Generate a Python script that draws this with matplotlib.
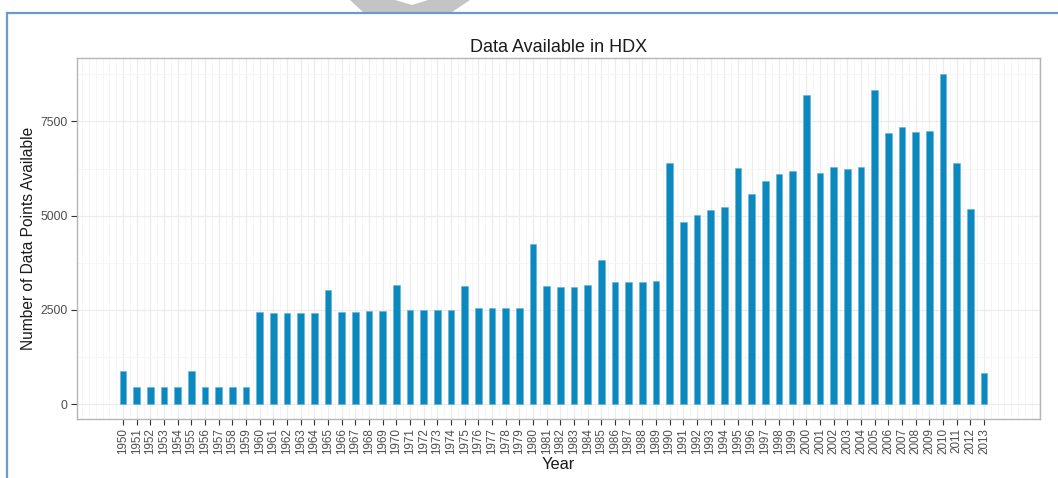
import matplotlib
matplotlib.use("Agg")
import matplotlib.pyplot as plt
from matplotlib.patches import Polygon
from matplotlib.lines import Line2D
import numpy as np

plt.rcParams['font.family'] = ['Liberation Sans', 'DejaVu Sans']

years = list(range(1950, 2014))
counts = [
    880, 450, 450, 450, 450, 880, 450, 450, 450, 450,          # 1950s
    2440, 2410, 2405, 2405, 2405, 3025, 2440, 2440, 2475, 2475,  # 1960s
    3155, 2505, 2505, 2505, 2505, 3125, 2540, 2540, 2540, 2540,  # 1970s
    4245, 3120, 3115, 3115, 3150, 3810, 3225, 3240, 3240, 3275,  # 1980s
    6390, 4840, 5005, 5140, 5235, 6255, 5565, 5925, 6095, 6190,  # 1990s
    8200, 6120, 6280, 6225, 6280, 8335, 7185, 7345, 7220, 7245,  # 2000s
    8765, 6390, 5165, 815,                                       # 2010s
]
yticks = [0, 2500, 5000, 7500]

W, H = 1058, 478
fig = plt.figure(figsize=(W / 100, H / 100), dpi=100)

# page decoration: blue frame + grey chevron at top
fig.add_artist(Line2D([7 / W, 7 / W], [0, 1 - 12.5 / H], transform=fig.transFigure,
                      color='#6a9ad4', lw=1.6))
fig.add_artist(Line2D([7 / W, 1], [1 - 12.5 / H, 1 - 12.5 / H], transform=fig.transFigure,
                      color='#6a9ad4', lw=1.6))
chev = [(350, 0), (395, 0), (412, 5), (428, 0), (470, 0), (452, 12), (363, 12)]
fig.add_artist(Polygon([(x / W, 1 - y / H) for x, y in chev], closed=True,
                       transform=fig.transFigure, facecolor='#c4c4c4', edgecolor='none'))

ax = fig.add_axes([77 / W, 1 - 419 / H, (1040 - 77) / W, (419 - 58) / H])
ax.bar(years, counts, width=0.5, color='#0b88bd', edgecolor='#5fb3d9', linewidth=0.4, zorder=3)

ax.set_xlim(1946.63, 2017.1)
ax.set_ylim(-398, 9183)

ax.set_xticks(years)
ax.set_xticklabels([str(y) for y in years], rotation=90, fontsize=8.4, color='#4d4d4d')
ax.set_yticks(yticks)
ax.set_yticklabels([str(v) for v in yticks], fontsize=8.8, color='#4d4d4d')
ax.set_yticks([1250, 3750, 6250, 8750], minor=True)
ax.set_xticks(np.arange(1947, 2017.5, 0.5), minor=True)
ax.tick_params(which='major', length=4.3, width=0.8, color='#333333', pad=2.4)
ax.tick_params(which='minor', length=0)

ax.grid(which='major', axis='both', color='#ececec', lw=0.9, zorder=0)
ax.grid(which='minor', axis='both', color='#f5f5f5', lw=0.6, zorder=0)
for s in ax.spines.values():
    s.set_color('#b5b5b5')
    s.set_linewidth(1.0)

ax.set_title('Data Available in HDX', fontsize=13, color='#1a1a1a', pad=4)
ax.set_xlabel('Year', fontsize=11.8, color='#1a1a1a', labelpad=2)
ax.set_ylabel('Number of Data Points Available', fontsize=11.2, color='#1a1a1a', labelpad=3)

fig.savefig('out.png', dpi=100)
